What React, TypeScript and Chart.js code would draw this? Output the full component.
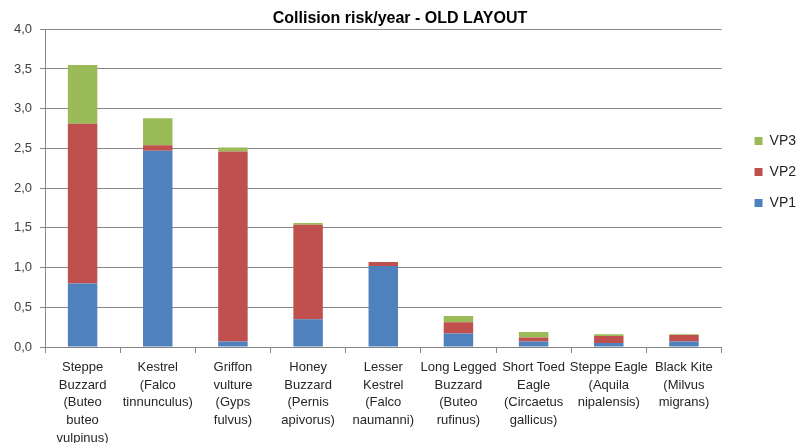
import React, { useEffect, useRef } from "react";
import { Chart, registerables } from "chart.js";

Chart.register(...registerables);

const categories: string[][] = [
  ["Steppe", "Buzzard", "(Buteo", "buteo", "vulpinus)"],
  ["Kestrel", "(Falco", "tinnunculus)"],
  ["Griffon", "vulture", "(Gyps", "fulvus)"],
  ["Honey", "Buzzard", "(Pernis", "apivorus)"],
  ["Lesser", "Kestrel", "(Falco", "naumanni)"],
  ["Long Legged", "Buzzard", "(Buteo", "rufinus)"],
  ["Short Toed", "Eagle", "(Circaetus", "gallicus)"],
  ["Steppe Eagle", "(Aquila", "nipalensis)"],
  ["Black Kite", "(Milvus", "migrans)"],
];

const vp1: number[] = [0.8, 2.47, 0.07, 0.35, 1.02, 0.17, 0.07, 0.05, 0.07];
const vp2: number[] = [2.01, 0.07, 2.39, 1.19, 0.05, 0.14, 0.05, 0.09, 0.08];
const vp3: number[] = [0.74, 0.34, 0.05, 0.02, 0.0, 0.08, 0.07, 0.02, 0.01];

const yTicks: number[] = [0, 0.5, 1, 1.5, 2, 2.5, 3, 3.5, 4];

const FONT = "'Liberation Sans', Arial, sans-serif";

export default function App() {
  const ref = useRef<HTMLCanvasElement | null>(null);
  useEffect(() => {
    if (!ref.current) return;
    const shiftLegend = {
      id: "shiftLegend",
      afterLayout(chart: any) {
        const lg = chart.legend;
        if (lg) {
          const dx = 16;
          const dy = -16;
          lg.left += dx;
          lg.right += dx;
          lg.top += dy;
          lg.bottom += dy;
        }
      },
    };
    const chart = new Chart(ref.current, {
      type: "bar",
      data: {
        labels: categories,
        datasets: [
          { label: "VP1", data: vp1, backgroundColor: "#4F81BD", barPercentage: 0.8, categoryPercentage: 0.49 },
          { label: "VP2", data: vp2, backgroundColor: "#C0504D", barPercentage: 0.8, categoryPercentage: 0.49 },
          { label: "VP3", data: vp3, backgroundColor: "#9BBB59", barPercentage: 0.8, categoryPercentage: 0.49 },
        ],
      },
      options: {
        responsive: false,
        animation: false,
        layout: { padding: { left: 10, right: 7, top: 0, bottom: 0 } },
        plugins: {
          title: {
            display: true,
            text: "Collision risk/year - OLD LAYOUT",
            color: "#000000",
            font: { family: FONT, size: 16, weight: "bold", lineHeight: 1.2 },
            padding: { top: 9, bottom: 1 },
          },
          legend: {
            position: "right",
            fullSize: false,
            reverse: true,
            labels: {
              boxWidth: 8,
              boxHeight: 8,
              padding: 17,
              color: "#262626",
              font: { family: FONT, size: 14 },
            },
          },
          tooltip: { enabled: false },
        },
        scales: {
          x: {
            stacked: true,
            offset: true,
            afterFit(scale: any) {
              scale.height = 96;
            },
            grid: { display: true, drawOnChartArea: false, drawTicks: true, tickLength: 6, offset: true, color: "#868686" },
            border: { color: "#868686" },
            ticks: {
              autoSkip: false,
              maxRotation: 0,
              minRotation: 0,
              padding: 6,
              color: "#262626",
              font: { family: FONT, size: 13, lineHeight: 1.35 },
            },
          },
          y: {
            stacked: true,
            min: 0,
            max: 4,
            afterFit(scale: any) {
              scale.width = 35;
            },
            afterBuildTicks(scale: any) {
              scale.ticks = yTicks.map((v) => ({ value: v }));
            },
            grid: { color: "#868686", tickLength: 5 },
            border: { color: "#868686" },
            ticks: {
              padding: 8,
              color: "#404040",
              font: { family: FONT, size: 13 },
              callback: (v: any) => Number(v).toFixed(1).replace(".", ","),
            },
          },
        },
      },
      plugins: [shiftLegend],
    });
    return () => chart.destroy();
  }, []);
  return (
    <div style={{ position: "absolute", left: 0, top: 0, width: 797, height: 443, background: "#fff" }}>
      <canvas ref={ref} width={797} height={443} />
    </div>
  );
}
